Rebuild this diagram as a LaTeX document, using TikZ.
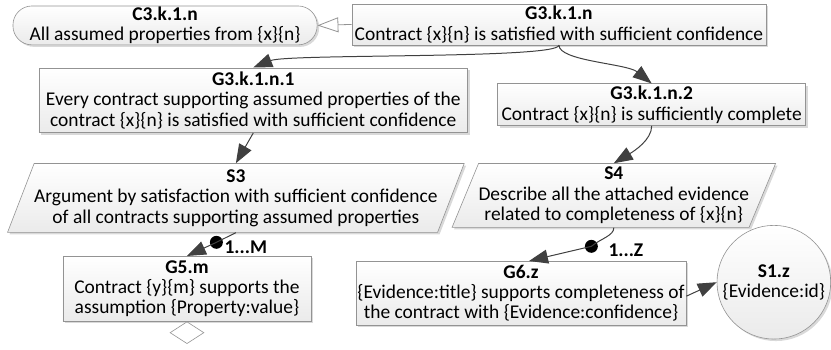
\documentclass[tikz,border=0pt]{standalone}
\usepackage{fontspec}
\setmainfont{Carlito}
\usetikzlibrary{arrows.meta,shapes.geometric,shadows}
\begin{document}
\begin{tikzpicture}[x=1pt,y=-1pt,goal node/.style={draw=gray!85, line width=0.6pt, top color=white, bottom color=gray!16, drop shadow={shadow xshift=2pt, shadow yshift=-2pt, opacity=0.3}, font=\fontsize{19.5}{20.5}\selectfont, align=center, inner sep=0pt},context node/.style={goal node, rounded corners=19pt},strategy node/.style={goal node, trapezium, trapezium left angle=65, trapezium right angle=115, trapezium stretches body=true},solution node/.style={goal node, circle},undev node/.style={diamond, draw=gray!85, line width=0.6pt, fill=white, minimum width=34pt, minimum height=22pt, inner sep=0pt},multi dot/.style={circle, fill=black, minimum size=13pt, inner sep=0pt},multi label/.style={font=\fontsize{19.5}{20.5}\selectfont\bfseries, inner sep=0pt},support/.style={draw=black!75, line width=1pt, -{Triangle[length=19pt,width=14pt]}},in context/.style={draw=gray!85, line width=0.8pt, -{Triangle[open,length=21pt,width=15pt,fill=white]}}]%
  % Top goal and its context%
\node[context node, minimum width=305pt, minimum height=39pt] (C3) at (165.5,25.5) {\textbf{C3.k.1.n}\\All assumed properties from \{x\}\{n\}};%
\node[goal node, minimum width=415pt, minimum height=41pt] (G3) at (560.5,24.5) {\textbf{G3.k.1.n}\\Contract \{x\}\{n\} is satisfied with sufficient confidence};%
  % Sub-goals%
\node[goal node, minimum width=430pt, minimum height=65pt] (G31) at (254,100.5) {\textbf{G3.k.1.n.1}\\Every contract supporting assumed properties of the\\contract \{x\}\{n\} is satisfied with sufficient confidence};%
\node[goal node, minimum width=309pt, minimum height=42pt] (G32) at (653.5,105) {\textbf{G3.k.1.n.2}\\Contract \{x\}\{n\} is sufficiently complete};%
  % Strategies%
\node[strategy node, minimum width=453pt, minimum height=69pt] (S3) at (236.5,198.5) {\textbf{S3}\\Argument by satisfaction with sufficient confidence\\of all contracts supporting assumed properties};%
\node[strategy node, minimum width=315pt, minimum height=64pt] (S4) at (615.5,196) {\textbf{S4}\\Describe all the attached evidence\\related to completeness of \{x\}\{n\}};%
  % Leaf goals and solution%
\node[goal node, minimum width=249pt, minimum height=65pt] (G5) at (187.5,289.5) {\textbf{G5.m}\\Contract \{y\}\{m\} supports the\\assumption \{Property:value\}};%
\node[undev node, anchor=north] (G5u) at (G5.south) {};%
\node[goal node, minimum width=331pt, minimum height=64pt] (G6) at (522.5,294) {\textbf{G6.z}\\\{Evidence:title\} supports completeness of\\the contract with \{Evidence:confidence\}};%
\node[solution node, minimum size=114pt] (S1) at (776,283) {\textbf{S1.z}\\\{Evidence:id\}};%
  % Multiplicities%
\node[multi dot] (dotM) at (217,243) {};%
\node[multi label, anchor=west] (labM) at (225,248) {1...M};%
\node[multi dot] (dotZ) at (593,247) {};%
\node[multi label, anchor=west] (labZ) at (610,251) {1...Z};%
  % Links%
\draw[in context] (G3.west) -- (C3.east);%
\draw[support] (G3.south) .. controls +(0,14) and +(35,-14) .. (G31.north);%
\draw[support] (G3.south) .. controls +(0,16) and +(-25,-20) .. (G32.north);%
\draw[support] (G31.south) -- (S3.north);%
\draw[support] (G32.south) .. controls +(0,14) and +(20,-12) .. (S4.north);%
\draw[support] (S3.south) -- (dotM.center) -- (G5.north);%
\draw[support] (S4.south) .. controls +(0,8) and +(10,-8) .. (dotZ.center) -- ([xshift=8pt]G6.north);%
\draw[support] ([yshift=-3pt]G6.east) -- (S1.west);%
\path[use as bounding box] (0,0) rectangle (831,350);%
\end{tikzpicture}
\end{document}
